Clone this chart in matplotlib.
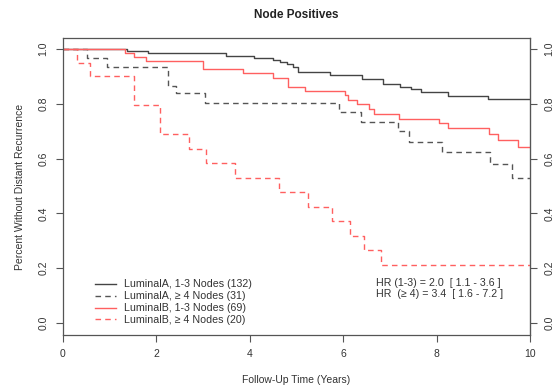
import matplotlib
matplotlib.use("Agg")
import matplotlib.pyplot as plt

plt.rcParams["font.family"] = ["Liberation Sans", "DejaVu Sans"]

# Kaplan-Meier step curves
lum_a_13_t = [0, 1.36, 1.83, 3.50, 4.08, 4.50, 4.65, 4.79, 4.93, 5.04, 5.72, 6.40,
              6.85, 7.22, 7.45, 7.67, 8.24, 9.11, 10]
lum_a_13_s = [1.0, 0.993, 0.984, 0.976, 0.968, 0.960, 0.951, 0.944, 0.935, 0.917,
              0.905, 0.889, 0.871, 0.862, 0.854, 0.844, 0.828, 0.818, 0.818]

lum_a_4_t = [0, 0.51, 0.94, 2.24, 2.41, 3.03, 5.90, 6.38, 7.17, 7.41, 8.11, 9.14, 9.62, 10]
lum_a_4_s = [1.0, 0.966, 0.935, 0.865, 0.838, 0.804, 0.769, 0.733, 0.702, 0.662,
             0.625, 0.579, 0.528, 0.528]

lum_b_13_t = [0, 1.33, 1.51, 1.78, 3.00, 3.85, 4.49, 4.81, 5.18, 6.04, 6.10, 6.29,
              6.55, 6.66, 7.20, 8.06, 8.24, 9.13, 9.31, 9.74, 10]
lum_b_13_s = [1.0, 0.984, 0.970, 0.956, 0.926, 0.911, 0.895, 0.862, 0.848, 0.832,
              0.814, 0.799, 0.781, 0.763, 0.743, 0.729, 0.710, 0.689, 0.668, 0.643, 0.643]

lum_b_4_t = [0, 0.29, 0.58, 1.52, 2.08, 2.70, 3.06, 3.69, 4.63, 5.24, 5.77, 6.15,
             6.45, 6.82, 10]
lum_b_4_s = [1.0, 0.95, 0.90, 0.794, 0.689, 0.636, 0.582, 0.529, 0.477, 0.424,
             0.372, 0.319, 0.266, 0.212, 0.212]

labels = ["LuminalA, 1-3 Nodes (132)", "LuminalA, \u2265 4 Nodes (31)",
          "LuminalB, 1-3 Nodes (69)", "LuminalB, \u2265 4 Nodes (20)"]
hr_lines = ["HR (1-3) = 2.0  [ 1.1 - 3.6 ]", "HR  (\u2265 4) = 3.4  [ 1.6 - 7.2 ]"]
xticks = [0, 2, 4, 6, 8, 10]
yticks = [0.0, 0.2, 0.4, 0.6, 0.8, 1.0]

grey = "#555555"
red = "#ff6060"
txt = "#333333"

fig = plt.figure(figsize=(5.56, 3.87), dpi=100)
ax = fig.add_axes([63 / 556, 1 - 335 / 387, 467 / 556, 297 / 387])

ax.step(lum_a_13_t, lum_a_13_s, where="post", color="#444444", lw=1.0, label=labels[0])
ax.step(lum_a_4_t, lum_a_4_s, where="post", color="#555555", lw=1.0,
        dashes=(4, 3), label=labels[1])
ax.step(lum_b_13_t, lum_b_13_s, where="post", color=red, lw=1.0, label=labels[2])
ax.step(lum_b_4_t, lum_b_4_s, where="post", color=red, lw=1.0,
        dashes=(4, 3), label=labels[3])

ax.set_xlim(0, 10)
ax.set_ylim(-0.044, 1.04)
ax.set_xticks(xticks)
ax.set_xticklabels([str(v) for v in xticks])
ax.set_yticks(yticks)
ax.set_yticklabels([f"{v:.1f}" for v in yticks], rotation=90, va="center")

sec = ax.secondary_yaxis("right")
sec.set_yticks(yticks)
sec.set_yticklabels([f"{v:.1f}" for v in yticks], rotation=90, va="center")
sec.tick_params(axis="y", length=5, width=0.8, color=grey, labelsize=7.5,
                labelcolor=txt, pad=5.5)
sec.spines["right"].set_color(grey)

for s in ax.spines.values():
    s.set_color(grey)
    s.set_linewidth(0.9)
ax.tick_params(axis="y", length=5, width=0.8, color=grey, labelsize=7.5,
               labelcolor=txt, pad=5.5)
ax.tick_params(axis="x", length=5, width=0.8, color=grey, labelsize=7.5,
               labelcolor=txt, pad=5)

ax.set_xlabel("Follow-Up Time (Years)", fontsize=7.5, color=txt)
ax.set_ylabel("Percent Without Distant Recurrence", fontsize=7.5, color=txt)
ax.xaxis.set_label_coords(0.5, -0.135)
ax.yaxis.set_label_coords(-0.082, 0.5)

fig.text(296 / 556, 1 - 15 / 387, "Node Positives", fontsize=8.5, fontweight="bold",
         ha="center", va="center", color="#222222")

ax.legend(loc="lower left", bbox_to_anchor=(0.057, 0.015), frameon=False,
          fontsize=7.7, handlelength=2.0, handletextpad=0.75, labelspacing=0.18,
          borderpad=0, labelcolor=txt)

ax.text(0.671, 0.176, hr_lines[0], transform=ax.transAxes, fontsize=7.7, color=txt,
        ha="left", va="center")
ax.text(0.671, 0.137, hr_lines[1], transform=ax.transAxes, fontsize=7.7, color=txt,
        ha="left", va="center")

fig.savefig("out.png", dpi=100)
